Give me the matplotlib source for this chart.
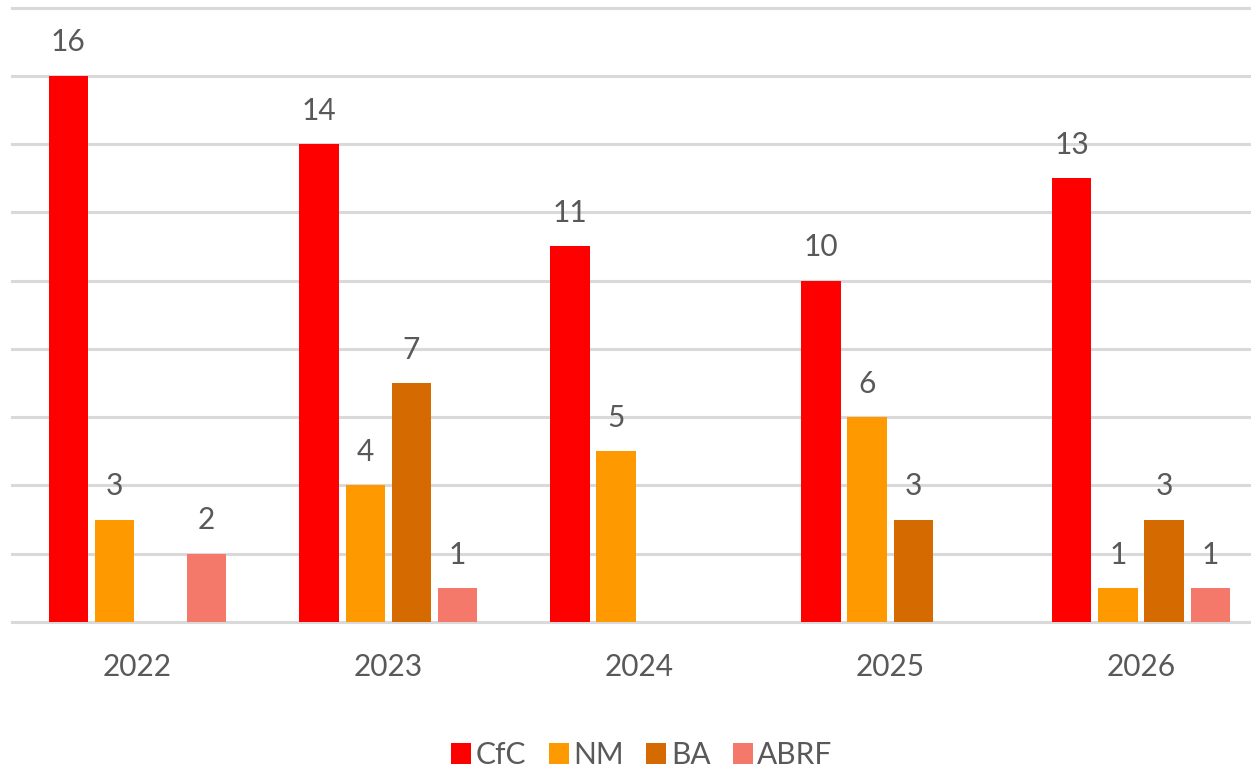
import numpy as np
import matplotlib
matplotlib.use("Agg")
import matplotlib.pyplot as plt

plt.rcParams['font.family'] = ['Lato', 'DejaVu Sans']

# chart data (blank cells in the source are None)
years = ["2022", "2023", "2024", "2025", "2026"]
series = ["CfC", "NM", "BA", "ABRF"]
cfc = [16, 14, 11, 10, 13]
nm = [3, 4, 5, 6, 1]
ba = [None, 7, None, 3, 3]
abrf = [2, 1, None, None, 1]

colors = ["#FF0000", "#FF9900", "#D46A00", "#F4796B"]
text_col = "#595959"

fig = plt.figure(figsize=(12.51, 7.68), dpi=100)
ax = fig.add_axes([12 / 1251, 146 / 768, 1254.5 / 1251, 614.5 / 768])

x = np.arange(len(years))
width = 0.157
step = 0.184

for i, (name, vals, col) in enumerate(zip(series, [cfc, nm, ba, abrf], colors)):
    h = np.array([np.nan if v is None else v for v in vals], dtype=float)
    pos = x + (i - 1.5) * step
    ax.bar(pos, h, width, color=col, label=name, zorder=2)
    for px, v in zip(pos, h):
        if np.isnan(v):
            continue
        ax.annotate(str(int(v)), (px, v), xytext=(0, 17.5), textcoords="offset points",
                    ha="center", va="baseline", fontsize=21.5, color=text_col)

ax.set_xlim(-0.5, len(years) - 0.5)
ax.set_ylim(0, 18)
ax.set_yticks(np.arange(0, 19, 2))
ax.set_yticklabels([])
ax.set_xticks(x)
ax.set_xticklabels(years, fontsize=21.5, color=text_col)
ax.tick_params(axis="both", length=0)
ax.tick_params(axis="x", pad=22)
for s in ax.spines.values():
    s.set_visible(False)
ax.set_axisbelow(True)
ax.yaxis.grid(True, color="#D9D9D9", linewidth=2.2)
for gl in ax.get_ygridlines():
    gl.set_clip_on(False)

fig.legend(loc="center", bbox_to_anchor=(642 / 1251, 13 / 768), ncol=4, frameon=False,
           fontsize=21.5, handlelength=0.67, handleheight=0.67, handletextpad=0.15,
           columnspacing=0.75, labelcolor=text_col)

fig.savefig("out.png", dpi=100)
